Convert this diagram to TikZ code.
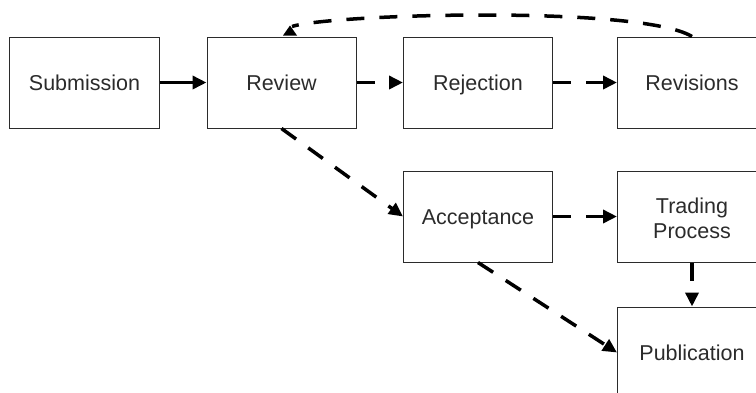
\documentclass[tikz,border=0pt]{standalone}
\usepackage{fontspec}
\setmainfont{Liberation Sans}
\usetikzlibrary{arrows.meta}
\definecolor{txt}{HTML}{2B2B2B}
\begin{document}
\begin{tikzpicture}[x=1bp,y=-1bp,
  box/.style={draw=txt, line width=1bp, minimum width=149bp, minimum height=91bp,
    inner sep=0pt, align=center, text=txt, text height=15.5bp, text depth=0bp,
    font=\fontsize{21.5bp}{25bp}\selectfont},
  arr/.style={line width=3.5bp, -{Triangle[length=14bp,width=13bp]}},
  dsh/.style={arr, dash pattern=on 18bp off 15bp}]
\useasboundingbox (0,0) rectangle (756,392);
\clip (0,0) rectangle (756,392);
\node[box] (sub) at (84.5,82.5) {Submission};
\node[box] (rev) at (281.5,82.5) {Review};
\node[box] (rej) at (478,82.5) {Rejection};
\node[box] (revs) at (692,82.5) {Revisions};
\node[box] (acc) at (478,216.5) {Acceptance};
\node[box, text height=43bp] (trad) at (692,216.5) {Trading\\Process};
\node[box] (pub) at (692,352.5) {Publication};
\draw[arr] (sub) -- (rev);
\draw[dsh] (rev) -- (rej);
\draw[dsh] (rej) -- (revs);
\draw[dsh] (acc) -- (trad);
\draw[dsh] (trad) -- (pub);
\draw[dsh] (rev.south) -- (acc.west);
\draw[dsh] (acc.south) -- (pub.west);
\coordinate (tip) at ([shift={(8.5,-11)}]rev.north);
\fill (rev.north) ++(1.5,-1) -- ++(14,0) -- (tip) -- cycle;
\draw[line width=3.5bp, dash pattern=on 18bp off 15bp]
  (revs.north) .. controls (640,5) and (330,14) .. ([shift={(2,1)}]tip);
\end{tikzpicture}
\end{document}
